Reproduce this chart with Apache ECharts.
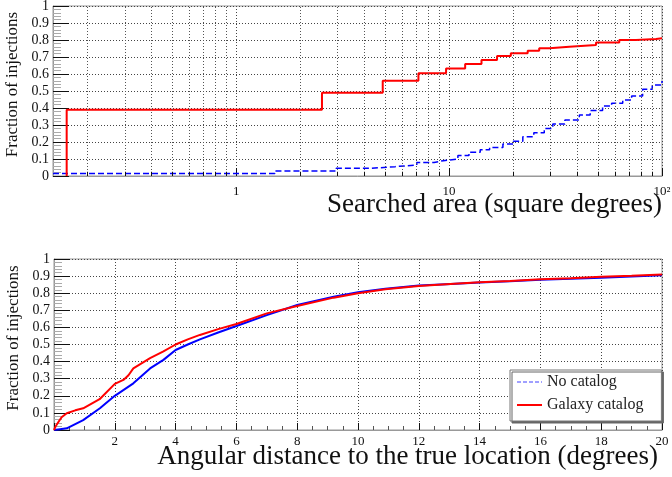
<!DOCTYPE html>
<html><head><meta charset="utf-8">
<script src="https://cdn.jsdelivr.net/npm/echarts@6/dist/echarts.min.js"></script>
<style>html,body{margin:0;padding:0;background:#fff}#c{width:672px;height:477px}</style>
</head><body><div id="c"></div>
<script>
// ---- Top panel: searched area (log x) ----
const areaRedX  = [0.16, 0.16, 2.53, 4.88, 7.18, 9.68, 11.9, 14.2, 16.8, 19.5, 23.4, 26.5, 29.6, 36.7, 49, 63, 75.5, 93.7, 100];
const areaRedY  = [0, 0.39, 0.49, 0.56, 0.605, 0.633, 0.659, 0.682, 0.706, 0.722, 0.737, 0.751, 0.761, 0.771, 0.786, 0.80, 0.806, 0.81, 0.81];
const areaBlueX = [0.138, 1.52, 2.95, 4.3, 5.58, 7.05, 8.5, 9.4, 11, 12.4, 14, 15.5, 17.9, 20, 22.2, 25, 28, 30.7, 35, 40.9, 46, 52.6, 58, 65.4, 72, 81.1, 90, 100];
const areaBlueY = [0.015, 0.03, 0.045, 0.055, 0.065, 0.08, 0.09, 0.1, 0.12, 0.14, 0.155, 0.168, 0.188, 0.205, 0.231, 0.255, 0.28, 0.306, 0.33, 0.359, 0.385, 0.412, 0.428, 0.447, 0.47, 0.51, 0.535, 0.559];
const areaMinorTicks = [0.2,0.3,0.4,0.5,0.6,0.7,0.8,0.9,2,3,4,5,6,7,8,9,20,30,40,50,60,70,80,90];

// ---- Bottom panel: angular distance ----
const distRedX  = [0, 0.05, 0.14, 0.25, 0.42, 0.7, 0.96, 1.5, 2.0, 2.3, 2.45, 2.61, 3.16, 3.6, 4.0, 4.4, 4.8, 5.4, 6.0, 7.0, 8.0, 9.2, 10, 10.9, 12, 12.9, 14, 15, 16, 17, 18, 19, 20];
const distRedY  = [0, 0.02, 0.045, 0.075, 0.098, 0.115, 0.127, 0.18, 0.27, 0.295, 0.32, 0.36, 0.42, 0.46, 0.50, 0.53, 0.556, 0.59, 0.62, 0.682, 0.725, 0.774, 0.80, 0.823, 0.842, 0.852, 0.864, 0.872, 0.881, 0.888, 0.896, 0.902, 0.91];
const distBlueX = [0, 0.2, 0.42, 0.96, 1.51, 2.0, 2.61, 3.16, 3.6, 4.0, 4.4, 4.8, 5.4, 6.0, 7.0, 8.0, 9.2, 10, 10.9, 12, 12.9, 14, 15, 16, 17, 18, 19, 20];
const distBlueY = [0, 0.005, 0.01, 0.058, 0.127, 0.20, 0.273, 0.36, 0.41, 0.468, 0.50, 0.53, 0.57, 0.608, 0.672, 0.731, 0.78, 0.805, 0.826, 0.845, 0.853, 0.862, 0.87, 0.879, 0.885, 0.891, 0.897, 0.905];

const seriesNames = ['No catalog', 'Galaxy catalog'];
const yTitle = 'Fraction of injections';
const xTitleTop = 'Searched area (square degrees)';
const xTitleBottom = 'Angular distance to the true location (degrees)';

const F = 'Liberation Serif';
const pairs = (xs, ys) => xs.map((x, i) => [x, ys[i]]);
const dotted = {color: '#444', width: 1, type: [1, 2]};

function yAxisCfg(grid) {
  return {
    type: 'value', gridIndex: grid, min: 0, max: 1, interval: 0.1,
    name: yTitle, nameLocation: 'middle', nameGap: 26,
    nameTextStyle: {fontFamily: F, fontSize: 17, color: '#111', padding: [0, 0, 0, 13]},
    axisLine: {show: true, lineStyle: {color: '#999'}},
    axisTick: {show: true, inside: true, length: 16, lineStyle: {color: '#111'}},
    minorTick: {show: true, splitNumber: 5, length: 8, lineStyle: {color: '#aaa'}},
    axisLabel: {fontFamily: F, fontSize: 14, color: '#111', margin: 4,
      formatter: v => (Math.round(v * 10) / 10).toString()},
    splitLine: {show: true, lineStyle: dotted}
  };
}

const option = {
  animation: false,
  backgroundColor: '#fff',
  title: [
    {text: xTitleTop, right: 10, top: 191, padding: 0,
     textStyle: {fontFamily: F, fontSize: 27, fontWeight: 'normal', color: '#111'}},
    {text: xTitleBottom, right: 14, top: 443, padding: 0,
     textStyle: {fontFamily: F, fontSize: 27, fontWeight: 'normal', color: '#111'}}
  ],
  grid: [
    {left: 53, top: 6, width: 609, height: 170, show: true, borderColor: '#999', borderWidth: 1, outerBoundsMode: 'none', containLabel: false},
    {left: 54, top: 259, width: 608, height: 171, show: true, borderColor: '#999', borderWidth: 1, outerBoundsMode: 'none', containLabel: false}
  ],
  xAxis: [
    {
      type: 'log', logBase: 10, gridIndex: 0, min: 0.138, max: 100,
      axisLine: {show: true, lineStyle: {color: '#999'}},
      axisTick: {show: true, inside: true, length: 8, lineStyle: {color: '#111'}},
      axisLabel: {fontFamily: F, fontSize: 13, color: '#111', margin: 9, showMinLabel: false,
        formatter: v => {
          const l = Math.log10(v), r = Math.round(l);
          if (Math.abs(l - r) > 1e-6) return '';
          return r === 0 ? '1' : r === 1 ? '10' : r === 2 ? '10²' : '';
        }},
      splitLine: {show: true, lineStyle: dotted}
    },
    {
      type: 'value', gridIndex: 1, min: 0, max: 20, interval: 2,
      axisLine: {show: true, lineStyle: {color: '#999'}},
      axisTick: {show: true, inside: true, length: 7, lineStyle: {color: '#111'}},
      minorTick: {show: true, splitNumber: 4, length: 4, lineStyle: {color: '#555'}},
      axisLabel: {fontFamily: F, fontSize: 13, color: '#111', margin: 5, showMinLabel: false},
      splitLine: {show: true, lineStyle: dotted}
    }
  ],
  yAxis: [yAxisCfg(0), yAxisCfg(1)],
  legend: {
    left: 510, top: 370, orient: 'vertical',
    itemWidth: 25, itemHeight: 10, itemGap: 7,
    padding: [4, 18, 8, 6],
    backgroundColor: '#fff', borderColor: '#777', borderWidth: 1, borderRadius: 0,
    shadowColor: '#666', shadowBlur: 0, shadowOffsetX: 2, shadowOffsetY: 2,
    textStyle: {fontFamily: F, fontSize: 16, color: '#222'},
    data: [
      {name: seriesNames[0], itemStyle: {opacity: 0}, lineStyle: {color: '#4040ff', width: 1, type: [4, 2]}},
      {name: seriesNames[1], itemStyle: {opacity: 0}, lineStyle: {color: '#ff0000', width: 2, type: 'solid'}}
    ]
  },
  series: [
    {
      name: seriesNames[0], type: 'line', xAxisIndex: 0, yAxisIndex: 0, step: 'end',
      symbol: 'none', data: pairs(areaBlueX, areaBlueY),
      lineStyle: {color: '#0000ff', width: 1.5, type: [6, 3]}, itemStyle: {color: '#0000ff'}
    },
    {
      name: seriesNames[1], type: 'line', xAxisIndex: 0, yAxisIndex: 0, step: 'end',
      symbol: 'none', data: pairs(areaRedX, areaRedY),
      lineStyle: {color: '#ff0000', width: 2}, itemStyle: {color: '#ff0000'},
      markLine: {
        silent: true, symbol: 'none', label: {show: false}, animation: false,
        data: areaMinorTicks.map(v => ({xAxis: v, lineStyle: {color: '#555', width: 1, type: [1, 2]}}))
          .concat(areaMinorTicks.map(v => [
            {coord: [v, 0], lineStyle: {color: '#111', width: 1, type: 'solid'}},
            {coord: [v, 0.025]}
          ]))
      }
    },
    {
      name: seriesNames[0], type: 'line', xAxisIndex: 1, yAxisIndex: 1,
      symbol: 'none', data: pairs(distBlueX, distBlueY),
      lineStyle: {color: '#0000ff', width: 2}, itemStyle: {color: '#0000ff'}
    },
    {
      name: seriesNames[1], type: 'line', xAxisIndex: 1, yAxisIndex: 1,
      symbol: 'none', data: pairs(distRedX, distRedY),
      lineStyle: {color: '#ff0000', width: 2}, itemStyle: {color: '#ff0000'}
    }
  ]
};
const chart = echarts.init(document.getElementById('c'));
chart.setOption(option);
</script></body></html>
